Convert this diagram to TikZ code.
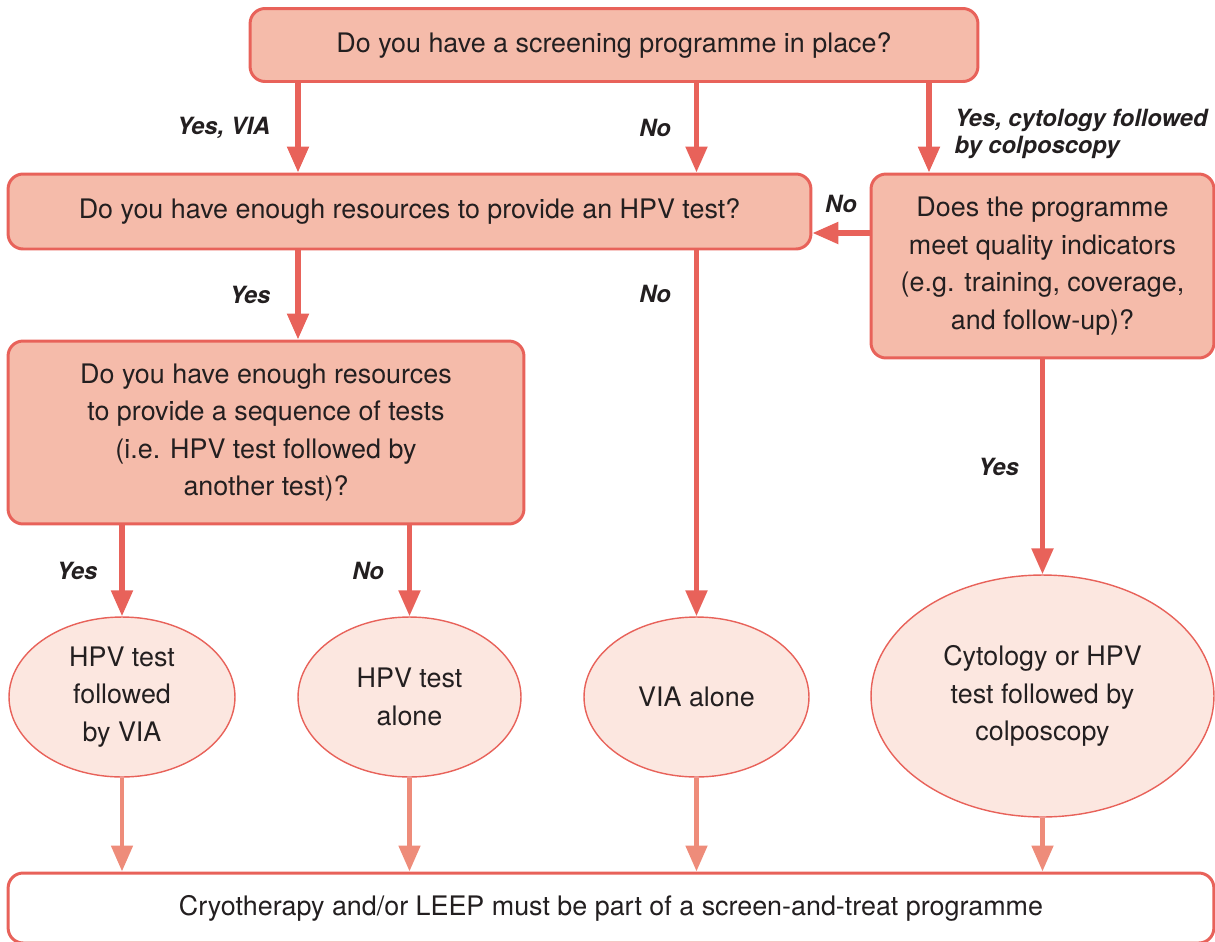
\documentclass[tikz,border=0pt]{standalone}
\usepackage{fontspec}
\setmainfont{TeX Gyre Heros}
\usetikzlibrary{positioning, arrows.meta, shapes.geometric}

\definecolor{boxfill}{HTML}{F5BBAA}
\definecolor{boxline}{HTML}{E8625A}
\definecolor{ovalfill}{HTML}{FCE7E0}
\definecolor{lightarrow}{HTML}{EE8C7A}
\definecolor{txt}{HTML}{231F20}

\newcommand{\qfont}{\fontsize{15.3}{21.3}\selectfont}
\newcommand{\afont}{\fontsize{13.5}{15.4}\selectfont\bfseries\itshape}

\tikzset{
    question/.style={draw=boxline, line width=1.7pt, fill=boxfill, rounded corners=0.3cm,
        align=center, text=txt, font=\qfont, inner sep=0},
    outcome/.style={ellipse, draw=boxline, line width=0.8pt, fill=ovalfill,
        align=center, text=txt, font=\qfont, inner sep=0},
    decision/.style={-{Triangle[length=0.52cm, width=0.42cm]}, line width=3pt, draw=boxline},
    toend/.style={-{Triangle[length=0.52cm, width=0.42cm]}, line width=2.8pt, draw=lightarrow},
    answer/.style={font=\afont, text=txt, inner sep=0},
}

\begin{document}
\begin{tikzpicture}[x=0.02cm, y=-0.02cm]
    \useasboundingbox (0,0) rectangle (1215,941);

    % Question boxes
    \node[question, minimum width=14.56cm, minimum height=1.46cm] (top) at (614,45)
        {Do you have a screening programme in place?};
    \node[question, minimum width=16.06cm, minimum height=1.5cm] (hpv) at (409.5,211.5)
        {Do you have enough resources to provide an HPV test?};
    \node[question, minimum width=6.86cm, minimum height=3.68cm] (qual) at (1042.5,266)
        {Does the programme\\meet quality indicators\\(e.g. training, coverage,\\and follow-up)?};
    \node[question, minimum width=10.32cm, minimum height=3.66cm] (seq) at (266,432.5)
        {Do you have enough resources\\to provide a sequence of tests\\(i.e. HPV test followed by\\another test)?};

    % Outcomes
    \node[outcome, minimum width=4.52cm, minimum height=3.2cm] (e1) at (122,697)
        {HPV test\\followed\\by VIA};
    \node[outcome, minimum width=4.46cm, minimum height=3.2cm] (e2) at (409.5,697)
        {HPV test\\alone};
    \node[outcome, minimum width=4.5cm, minimum height=3.2cm] (e3) at (696.5,697)
        {VIA alone};
    \node[outcome, minimum width=6.86cm, minimum height=4.84cm] (e4) at (1042.5,696)
        {Cytology or HPV\\test followed by\\colposcopy};

    % Final box
    \node[question, fill=white, minimum width=24.12cm, minimum height=1.4cm] (final) at (611,908)
        {Cryotherapy and/or LEEP must be part of a screen-and-treat programme};

    % Columns of the arrows that do not start at a node centre
    \coordinate (viax) at (298,0);
    \coordinate (cytox) at (929,0);
    \coordinate (noy) at (0,233);

    % Arrows from the first question
    \draw[decision] (top.south -| viax) -- (hpv.north -| viax)
        node[midway, answer, left=0.5cm] {Yes, VIA};
    \draw[decision] (top.south -| e3.north) -- (hpv.north -| e3.north)
        node[midway, answer, left=0.46cm] {No};
    \draw[decision] (top.south -| cytox) -- (qual.north -| cytox)
        node[midway, answer, right=0.46cm, yshift=-0.12cm, align=left] {Yes, cytology followed\\by colposcopy};

    % Quality indicators
    \draw[decision] (qual.west |- noy) -- (hpv.east |- noy)
        node[midway, answer, above=0.36cm] {No};
    \draw[decision] (qual.south) -- (e4.north)
        node[midway, answer, left=0.42cm] {Yes};

    % HPV test question
    \draw[decision] (hpv.south -| viax) -- (seq.north -| viax)
        node[midway, answer, left=0.5cm] {Yes};
    \draw[decision] (hpv.south -| e3.north) -- (e3.north)
        node[pos=0.12, answer, left=0.46cm] {No};

    % Sequence question
    \draw[decision] (seq.south -| e1.north) -- (e1.north)
        node[midway, answer, left=0.44cm] {Yes};
    \draw[decision] (seq.south -| e2.north) -- (e2.north)
        node[midway, answer, left=0.46cm] {No};

    % Every outcome leads to treatment
    \foreach \e in {e1,e2,e3,e4}
        \draw[toend] (\e.south) -- (\e.south |- final.north);
\end{tikzpicture}
\end{document}
